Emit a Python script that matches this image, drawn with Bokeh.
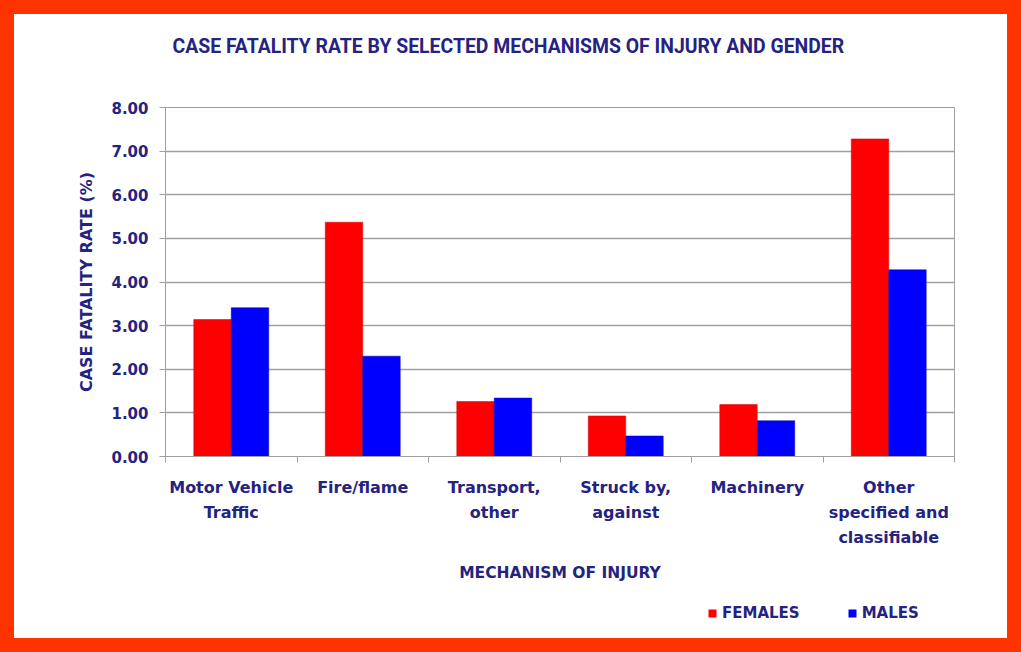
import numpy as np
from bokeh.plotting import figure
from bokeh.layouts import column
from bokeh.models import (Range1d, FixedTicker, NumeralTickFormatter, ColumnDataSource,
                          Legend, LegendItem, Title)
from bokeh.transform import dodge
from bokeh.embed import file_html
from bokeh.resources import INLINE

# ---- data ----
categories = ["Motor Vehicle\nTraffic", "Fire/flame", "Transport,\nother",
              "Struck by,\nagainst", "Machinery", "Other\nspecified and\nclassifiable"]
females = [3.14, 5.37, 1.26, 0.93, 1.19, 7.28]
males = [3.41, 2.30, 1.34, 0.47, 0.82, 4.28]
y_ticks = [0, 1, 2, 3, 4, 5, 6, 7, 8]
series_labels = ["FEMALES", "MALES"]
series_colors = ["#ff0000", "#0000ff"]
title_text = "CASE FATALITY RATE BY SELECTED MECHANISMS OF INJURY AND GENDER"
x_title = "MECHANISM OF INJURY"
y_title = "CASE FATALITY RATE (%)"

NAVY = "#25237f"
GRID = "#a0a0a0"
FONT = "DejaVu Sans"

n = len(categories)
centers = [i + 0.5 for i in range(n)]
src = ColumnDataSource(dict(x=centers, f=females, m=males))

p = figure(width=993, height=575, x_range=Range1d(0, n), y_range=Range1d(0, 8),
           output_backend="svg", toolbar_location=None, title=None,
           min_border_left=151, min_border_right=53, min_border_top=93,
           min_border_bottom=133)
p.background_fill_color = "white"
p.border_fill_color = "white"
p.outline_line_color = GRID
p.outline_line_width = 1

# spacer between chart and title, then the title itself
p.add_layout(Title(text=" ", text_font_size="1px", standoff=42), "above")
p.add_layout(Title(text=title_text, align="left", offset=7, standoff=10,
                   text_font="Roboto", text_font_size="19.4px",
                   text_font_style="bold", text_color=NAVY), "above")

bw = 0.285
p.vbar(x=dodge("x", -bw / 2, range=p.x_range), top="f", width=bw, source=src,
       fill_color=series_colors[0], line_color="#d00000", line_width=0.5)
p.vbar(x=dodge("x", bw / 2, range=p.x_range), top="m", width=bw, source=src,
       fill_color=series_colors[1], line_color="#0000b0", line_width=0.5)

# x axis
xa = p.xaxis[0]
xa.ticker = FixedTicker(ticks=centers, minor_ticks=list(range(n + 1)))
xa.major_label_overrides = {c: lab for c, lab in zip(centers, categories)}
xa.major_tick_line_color = None
xa.minor_tick_out = 6
xa.minor_tick_in = 0
xa.minor_tick_line_color = GRID
xa.axis_line_color = GRID
xa.major_label_standoff = 15
xa.major_label_text_font = FONT
xa.major_label_text_font_style = "bold"
xa.major_label_text_font_size = "16px"
xa.major_label_text_color = NAVY
xa.major_label_text_line_height = 1.34
xa.axis_label = x_title
xa.axis_label_standoff = 14
xa.axis_label_text_font = FONT
xa.axis_label_text_font_style = "bold"
xa.axis_label_text_font_size = "15.5px"
xa.axis_label_text_color = NAVY

# y axis
ya = p.yaxis[0]
ya.ticker = FixedTicker(ticks=y_ticks)
ya.formatter = NumeralTickFormatter(format="0.00")
ya.minor_tick_line_color = None
ya.major_tick_out = 6
ya.major_tick_in = 0
ya.major_tick_line_color = GRID
ya.axis_line_color = GRID
ya.major_label_standoff = 11
ya.major_label_text_font = FONT
ya.major_label_text_font_style = "bold"
ya.major_label_text_font_size = "15px"
ya.major_label_text_color = NAVY
ya.axis_label = y_title
ya.axis_label_standoff = 12
ya.axis_label_text_font = FONT
ya.axis_label_text_font_style = "bold"
ya.axis_label_text_font_size = "16px"
ya.axis_label_text_color = NAVY

p.xgrid.grid_line_color = None
p.ygrid.grid_line_color = GRID
p.ygrid.grid_line_width = 1.5

# legend strip below the chart (its frame is aligned with the chart's frame)
lf = figure(width=993, height=49, x_range=Range1d(0, 1), y_range=Range1d(0, 1),
            output_backend="svg", toolbar_location=None, min_border=0)
lf.axis.visible = False
lf.grid.visible = False
lf.outline_line_color = None
lf.background_fill_color = "white"
lf.border_fill_color = "white"
# zero-height placeholder bars: only used to supply legend swatches
lr = [lf.vbar(x=[0.5], top=[0], bottom=[0], width=0.01, fill_color=c, line_color=None)
      for c in series_colors]
legend = Legend(items=[LegendItem(label=lab, renderers=[r])
                       for lab, r in zip(series_labels, lr)],
                orientation="horizontal", location=(542, 16),
                border_line_color=None, background_fill_alpha=0,
                glyph_width=10, glyph_height=10, label_standoff=5, spacing=47,
                padding=0, margin=0,
                label_text_font=FONT, label_text_font_style="bold",
                label_text_font_size="15px", label_text_color=NAVY)
lf.add_layout(legend)

layout = column(p, lf, width=1021, height=652, spacing=0,
                styles={"border": "14px solid #ff3300", "background-color": "white"})

open("out.html", "w").write(file_html(layout, INLINE))
